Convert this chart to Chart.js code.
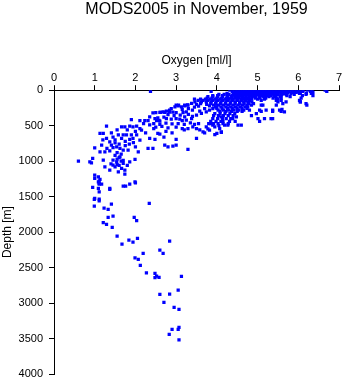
<!DOCTYPE html>
<html><head><meta charset="utf-8">
<script src="https://cdn.jsdelivr.net/npm/chart.js@4/dist/chart.umd.min.js"></script>
<style>html,body{margin:0;padding:0;background:#fff}canvas{display:block}</style>
</head><body>
<canvas id="c" width="345" height="384"></canvas>
<script>
const titleText = 'MODS2005 in November, 1959';
const xTitle = 'Oxygen [ml/l]';
const yTitle = 'Depth [m]';
const oxygenTicks = [0, 1, 2, 3, 4, 5, 6, 7];
const depthTicks = [0, 500, 1000, 1500, 2000, 2500, 3000, 3500, 4000];

// dense near-surface rows: depth and the oxygen values observed at it
const surfaceDepths = [0, 15, 30, 45, 60, 75, 90, 110, 125, 145, 165];
const surfaceOxygen = [
  [4.32,4.42,4.5,4.58,4.64,4.7,4.76,4.82,4.88,4.94,5.0,5.06,5.12,5.18,5.24,5.3,5.38,5.46,5.54,5.62,5.7,5.78,5.86,5.95,6.03,6.12,6.22,6.34,6.66],
  [2.37,3.86,4.38,4.47,4.55,4.62,4.68,4.74,4.8,4.86,4.92,4.98,5.04,5.1,5.16,5.22,5.3,5.36,5.44,5.52,5.6,5.68,5.76,5.84,5.92,6.01,6.11,6.3,6.7],
  [4.45,4.53,4.6,4.67,4.73,4.79,4.85,4.91,4.97,5.03,5.09,5.15,5.21,5.28,5.35,5.42,5.5,5.58,5.66,5.74,5.87,5.95,6.05,6.36],
  [4.25,4.4,4.5,4.58,4.65,4.71,4.77,4.83,4.89,4.95,5.01,5.07,5.14,5.2,5.27,5.34,5.41,5.49,5.57,5.64,5.72,5.82,6.03,6.2,6.32],
  [4.05,4.18,4.3,4.42,4.52,4.6,4.68,4.75,4.82,4.88,4.94,5.0,5.08,5.16,5.24,5.32,5.4,5.5,5.6,5.7,5.9,6.19],
  [3.9,4.02,4.14,4.26,4.38,4.48,4.56,4.64,4.72,4.8,4.88,4.96,5.04,5.12,5.22,5.32,5.45,5.58,5.72,6.1,6.36],
  [3.78,3.9,4.02,4.14,4.26,4.36,4.46,4.55,4.63,4.71,4.79,4.87,4.95,5.05,5.15,5.28,5.4,5.55,5.8],
  [3.76,3.88,4.0,4.12,4.24,4.34,4.44,4.53,4.62,4.7,4.78,4.86,4.95,5.06,5.2,5.38,5.46,5.58,6.07],
  [3.45,3.6,3.72,3.84,3.96,4.08,4.2,4.3,4.4,4.5,4.6,4.68,4.76,4.85,5.0,5.17,5.5],
  [3.54,3.66,3.78,3.9,4.02,4.14,4.26,4.38,4.5,4.6,4.7,4.8,5.09,5.46,5.58,6.03],
  [3.46,3.62,3.74,3.86,3.98,4.1,4.22,4.34,4.45,4.56,4.66,4.76,4.86,5.5,5.7,6.05]
];

// [oxygen ml/l, depth m] samples
const upperBand = [
  [3.0,211],[3.06,211],[3.21,211],[3.28,207],[3.38,187],[3.29,211],[3.21,221],[3.13,235],[3.05,221],[2.97,235],
  [2.88,258],[2.84,282],[2.76,296],[2.68,305],[2.6,314],[3.82,221],[3.70,258],[3.90,258],[3.99,235],[3.82,282],
  [3.58,296],[3.74,305],[3.62,328],[3.5,352],[3.45,240],[3.55,225],[3.3,260],[3.4,280],[3.15,270],[3.6,190],
  [3.5,200],[3.75,200],[6.21,211],[6.05,165],[5.6,272],[5.66,305]
];
const lowerBandDepths = [190, 210, 235, 255, 280, 300, 330, 360, 400, 440, 470];
const lowerBandOxygen = [
  [3.85,3.97,4.09,4.21,4.33,4.45,4.56,4.67,4.78,4.9,5.62,6.19],
  [3.92,4.04,4.16,4.28,4.4,4.52,4.63,4.74,4.85,5.09,5.13,5.46],
  [3.97,4.1,4.22,4.34,4.46,4.58,4.7,4.76],
  [4.0,4.13,4.26,4.38,4.5,4.62,4.74],
  [4.03,4.16,4.29,4.42,4.54,4.66,4.8,5.05,5.21,5.37,5.54],
  [4.08,4.22,4.36,4.5,4.62,5.09,5.37,5.58],
  [3.95,4.08,4.2,4.32,4.44,4.97],
  [3.92,4.04,4.16,4.28,4.4,4.85],
  [3.9,4.02,4.14,4.23,4.34,4.39,5.01,5.17,5.33,5.37],
  [3.85,3.98,4.1,4.15,4.31,4.45,5.05],
  [3.8,3.92,4.03,4.15,4.28]
];
const midLayer = [
  [3.95,517],[4.07,540],[4.19,493],[3.74,517],[3.9,493],[3.82,563],[3.66,587],[3.5,540],[3.41,517],[3.29,540],
  [4.11,587],[4.52,493],[4.6,493],[4.27,493],[4.11,596],[3.85,470],[4.0,610],[3.95,625],[3.58,560],[4.05,500],
  [3.7,600],[3.78,545],[4.48,375],[4.11,375],
  [2.43,320],[2.5,315],[2.62,312],[2.72,312],[2.84,310],[2.92,308],[3.0,315],[3.17,315],[3.25,305],[2.35,375],
  [2.48,400],[2.11,430],[2.23,430],[2.31,430],[2.52,430],[2.58,425],[1.9,413],[2.6,437],[2.76,399],[2.88,408],
  [3.0,399],[3.09,408],[3.21,375],[3.25,422],[3.38,399],[2.95,360],[3.1,350],[3.3,340],[2.8,345],[2.7,380],
  [2.55,390],[3.4,370],[3.15,430],[2.2,470],[2.35,490],[2.45,470],[2.6,480],[2.75,465],[2.9,475],[3.05,470],
  [3.2,480],[3.35,460],[2.5,520],[2.65,510],[2.8,530],[3.0,520],[3.15,540],[3.45,480],[3.55,470]
];
const leftBranch = [
  [1.29,507],[1.13,610],[1.21,610],[1.41,600],[1.66,517],[1.74,517],[1.86,507],[1.94,517],[2.03,507],[2.11,540],
  [2.15,563],[1.58,630],[1.70,630],[1.78,630],[1.90,630],[2.03,630],[2.25,600],[2.45,540],[2.6,620],[2.7,660],
  [2.75,580],[2.55,610],[1.8,560],[2.0,580],[1.55,560],[1.45,660],[3.2,560],[2.9,600],
  [1.29,680],[1.37,728],[1.41,775],[1.50,742],[1.66,680],[1.86,694],[1.94,680],[2.11,704],[2.35,680],[2.48,694],
  [1.17,775],[1.0,812],[1.13,868],[1.25,868],[1.37,855],[1.54,798],[1.62,821],[1.70,845],[1.82,845],[2.07,868],
  [2.31,821],[2.43,821],[2.72,775],[2.8,798],[2.92,789],[3.0,775],[3.29,835],[3.0,694],[3.5,680],
  [1.5,700],[1.6,760],[1.75,720],[1.45,810],[1.55,880],[1.65,900],[1.75,780],[1.85,760],[1.6,950],[1.5,920],
  [1.95,740],[1.3,820],[2.0,800],[1.2,700]
];
const intermediate = [
  [0.6,1000],[0.88,1009],[0.95,962],[0.92,1023],[1.21,986],[1.25,1080],[1.45,986],[1.54,1009],[1.62,939],[1.70,1032],
  [1.66,1103],[1.58,1150],[1.74,1126],[1.86,1009],[1.99,976],[1.37,1126],[1.45,1056],[1.0,1197],[1.09,1220],[1.13,1257],
  [1.0,1243],[1.09,1291],[1.74,1183],[1.86,1324],[1.99,1291],[1.70,1352],[1.76,1352],[1.37,1385],[0.95,1371],[1.09,1385],
  [1.11,1314],[1.0,1525],[1.11,1535],[1.55,1050],[1.65,1000],[1.5,1080],[1.6,1060],[1.4,1040],[1.8,1060],[1.55,970],
  [1.7,990],[1.11,1281],[1.11,1324],[1.17,1324],[1.11,1432],[1.37,1399],[2.0,1305]
];
const deepWater = [
  [0.99,1540],[1.11,1559],[1.41,1605],[1.23,1662],[1.33,1680],[0.99,1634],[2.34,1596],[1.33,1793],[1.45,1775],[1.21,1868],
  [1.29,1892],[1.43,1934],[1.97,1793],[2.03,1840],[1.55,2056],[1.67,2169],[1.84,2113],[1.94,2141],[2.05,2089],[2.19,2300],
  [1.99,2362],[2.07,2385],[2.12,2470],[2.84,2127],[2.6,2254],[2.68,2300],[2.27,2573],[2.48,2582],[2.52,2620],[2.48,2643],
  [2.58,2639],[3.13,2625],[3.05,2817],[2.6,2878],[2.84,2873],[2.70,2990],[2.95,3060],[3.07,3088],[3.07,3342],[3.05,3370],
  [2.90,3370],[2.83,3440],[3.07,3520]
];

const points = [];
surfaceDepths.forEach((d, i) => surfaceOxygen[i].forEach(o => points.push({x: o, y: d})));
lowerBandDepths.forEach((d, i) => lowerBandOxygen[i].forEach(o => points.push({x: o, y: d})));
[upperBand, midLayer, leftBranch, intermediate, deepWater].forEach(arr =>
  arr.forEach(([o, d]) => points.push({x: o, y: d})));

const FONT = "'Liberation Sans', Arial, Helvetica, sans-serif";

new Chart(document.getElementById('c'), {
  type: 'scatter',
  data: {
    datasets: [{
      data: points,
      pointStyle: 'rect',
      pointRadius: 2.3,
      pointBorderWidth: 0,
      backgroundColor: '#0000ff',
      borderColor: '#0000ff',
      pointHoverRadius: 2.3
    }]
  },
  options: {
    responsive: false,
    animation: false,
    devicePixelRatio: 1,
    layout: {padding: {left: 0, right: 6, top: 0, bottom: 10}},
    plugins: {
      legend: {display: false},
      tooltip: {enabled: false},
      title: {
        display: true, text: titleText, fullSize: false, color: '#000',
        font: {family: FONT, size: 16, weight: 'normal'},
        padding: {top: 0, bottom: 0}
      }
    },
    scales: {
      x: {
        type: 'linear', position: 'top', min: 0, max: 7,
        afterBuildTicks: s => { s.ticks = oxygenTicks.map(v => ({value: v})); },
        ticks: {color: '#000', font: {family: FONT, size: 11}, padding: 1, maxRotation: 0, autoSkip: false,
                callback: v => String(v)},
        grid: {drawOnChartArea: false, drawTicks: true, tickLength: 5, color: '#000', lineWidth: 1},
        border: {display: true, color: '#000', width: 1},
        title: {display: true, text: xTitle, color: '#000', font: {family: FONT, size: 12}, padding: {top: 34, bottom: 0}},
        afterFit: s => { s.height = 71; s.paddingLeft = 0; s.paddingRight = 0; }
      },
      y: {
        type: 'linear', reverse: true, min: 0, max: 4000,
        afterBuildTicks: s => { s.ticks = depthTicks.map(v => ({value: v})); },
        ticks: {color: '#000', font: {family: FONT, size: 11}, padding: 6, autoSkip: false,
                callback: v => String(v)},
        grid: {drawOnChartArea: false, drawTicks: true, tickLength: 5, color: '#000', lineWidth: 1},
        border: {display: true, color: '#000', width: 1},
        title: {display: true, text: yTitle, color: '#000', font: {family: FONT, size: 12}, padding: {top: 0, bottom: 0}},
        afterFit: s => { s.width = 54; s.paddingTop = 0; s.paddingBottom = 0; }
      }
    }
  }
});
</script>
</body></html>
